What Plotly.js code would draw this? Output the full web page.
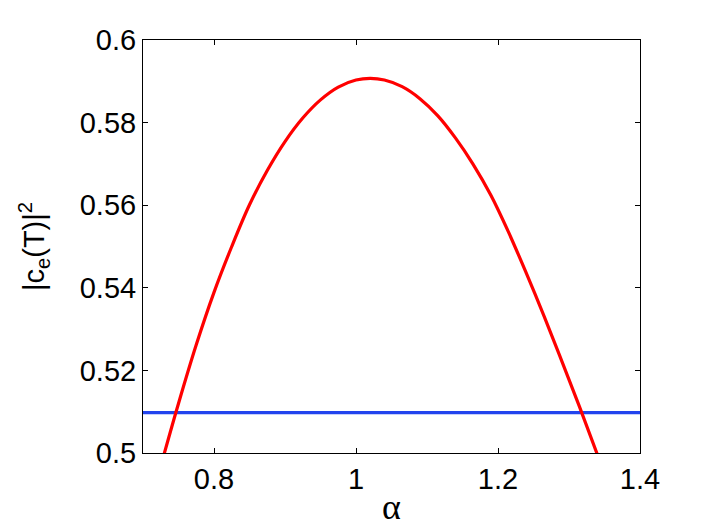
<!DOCTYPE html>
<html>
<head>
<meta charset="utf-8">
<script src="https://cdn.plot.ly/plotly-3.0.1.min.js"></script>
<style>html,body{margin:0;padding:0;background:#fff;}#chart{width:706px;height:531px;}</style>
</head>
<body>
<div id="chart"></div>
<script>
// Red curve: |c_e(T)|^2 versus alpha
const alphaRed = [0.73, 0.75, 0.775, 0.80, 0.825, 0.85, 0.875, 0.90, 0.925, 0.95, 0.975, 1.00, 1.02, 1.04, 1.065, 1.09, 1.115, 1.14, 1.165, 1.19, 1.215, 1.24, 1.265, 1.29, 1.315, 1.34];
const valRed   = [0.4999, 0.5120, 0.5262, 0.5389, 0.5500, 0.5601, 0.5684, 0.5754, 0.5811, 0.5855, 0.5886, 0.5903, 0.5907, 0.5903, 0.5887, 0.5858, 0.5817, 0.5763, 0.5699, 0.5624, 0.5534, 0.5435, 0.5331, 0.5222, 0.5111, 0.4996];
// Blue constant reference line
const alphaBlue = [0.7, 1.4];
const valBlue   = [0.5098, 0.5098];
// Tick labels
const xTickVals = [0.8, 1, 1.2, 1.4];
const xTickText = ["0.8", "1", "1.2", "1.4"];
const yTickVals = [0.5, 0.52, 0.54, 0.56, 0.58, 0.6];
const yTickText = ["0.5", "0.52", "0.54", "0.56", "0.58", "0.6"];

const font = {family: "Liberation Sans, Arial, sans-serif", size: 29, color: "#000"};
const greekFont = {family: "Liberation Serif, Times New Roman, serif", size: 36, color: "#000"};

const traces = [
  {x: alphaBlue, y: valBlue, mode: "lines", line: {color: "#2244ee", width: 3.2}, hoverinfo: "skip"},
  {x: alphaRed, y: valRed, mode: "lines", line: {color: "#ff0000", width: 3.2, shape: "spline", smoothing: 1}, hoverinfo: "skip"}
];

const axisCommon = {
  showgrid: false, zeroline: false, showline: true, linecolor: "#000", linewidth: 1,
  mirror: "ticks", ticks: "inside", ticklen: 5, tickwidth: 1, tickcolor: "#000",
  tickfont: font, tickmode: "array"
};

const layout = {
  width: 706, height: 531,
  margin: {l: 143, r: 66, t: 40, b: 78},
  paper_bgcolor: "#fff", plot_bgcolor: "#fff",
  showlegend: false,
  xaxis: Object.assign({}, axisCommon, {
    range: [0.7, 1.4], tickvals: xTickVals, ticktext: xTickText,
    title: {text: "α", font: greekFont, standoff: 0}
  }),
  yaxis: Object.assign({}, axisCommon, {
    range: [0.5, 0.6], tickvals: yTickVals, ticktext: yTickText,
    title: {text: "|c<sub>e</sub>(T)|<sup>2</sup>", font: font, standoff: 26}
  })
};

Plotly.newPlot("chart", traces, layout, {staticPlot: true, displayModeBar: false});
</script>
</body>
</html>
